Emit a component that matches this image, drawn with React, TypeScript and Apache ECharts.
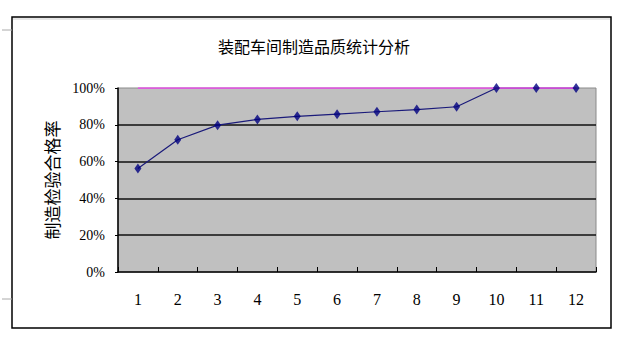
import React, { useEffect, useRef } from "react";
import * as echarts from "echarts";

const titleText = "装配车间制造品质统计分析";
const yAxisName = "制造检验合格率";
const months = ["1", "2", "3", "4", "5", "6", "7", "8", "9", "10", "11", "12"];
const passRate = [0.562, 0.719, 0.798, 0.829, 0.846, 0.858, 0.871, 0.883, 0.898, 1.0, 1.0, 1.0];
const targetRate = [1, 1, 1, 1, 1, 1, 1, 1, 1, 1, 1, 1];
const yTickValues = [0, 0.2, 0.4, 0.6, 0.8, 1.0];

export default function App() {
  const ref = useRef<HTMLDivElement>(null);
  useEffect(() => {
    if (!ref.current) return;
    const chart = echarts.init(ref.current, null, { renderer: "svg" });
    chart.setOption({
      animation: false,
      backgroundColor: "#ffffff",
      title: {
        text: titleText,
        left: 213,
        top: 33,
        textStyle: {
          fontFamily: "Noto Sans CJK SC",
          fontSize: 16,
          fontWeight: "normal",
          color: "#000",
        },
      },
      grid: {
        left: 118,
        top: 88,
        right: 34,
        bottom: 66,
        show: true,
        backgroundColor: "#c0c0c0",
        borderColor: "#8a8a8a",
        borderWidth: 1,
      },
      xAxis: {
        type: "category",
        data: months,
        boundaryGap: true,
        axisLine: { show: true, lineStyle: { color: "#000", width: 1.5 } },
        axisTick: { show: true, inside: true, length: 5, lineStyle: { color: "#000" } },
        axisLabel: {
          margin: 19,
          fontFamily: "Liberation Serif",
          fontSize: 16,
          color: "#000",
        },
      },
      yAxis: {
        type: "value",
        min: yTickValues[0],
        max: yTickValues[yTickValues.length - 1],
        interval: 0.2,
        name: yAxisName,
        nameLocation: "middle",
        nameRotate: 90,
        nameGap: 58,
        nameTextStyle: {
          fontFamily: "Noto Sans CJK SC",
          fontSize: 17,
          color: "#000",
        },
        axisLine: { show: true, lineStyle: { color: "#000", width: 1.5 } },
        axisTick: { show: true, length: 3, lineStyle: { color: "#000" } },
        axisLabel: {
          margin: 13,
          fontFamily: "Liberation Serif",
          fontSize: 14,
          color: "#000",
          formatter: (v: number) => `${Math.round(v * 100)}%`,
        },
        splitLine: {
          show: true,
          showMinLine: false,
          showMaxLine: false,
          lineStyle: { color: "#111", width: 1.5 },
        },
      },
      series: [
        {
          name: "合格率",
          type: "line",
          data: passRate,
          symbol: "none",
          lineStyle: { color: "#1a1a7a", width: 1.2 },
          z: 2,
        },
        {
          name: "目标",
          type: "line",
          data: targetRate,
          symbol: "none",
          lineStyle: { color: "#ee44ee", width: 1.5 },
          z: 3,
        },
        {
          name: "合格率点",
          type: "scatter",
          data: passRate,
          symbol: "diamond",
          symbolSize: [7, 10],
          itemStyle: { color: "#000080" },
          z: 4,
        },
      ],
      graphic: [
        {
          type: "rect",
          shape: { x: 12, y: 17, width: 599, height: 311 },
          style: { fill: "none", stroke: "#000", lineWidth: 1.5 },
          silent: true,
        },
        {
          type: "line",
          shape: { x1: 13, y1: 19, x2: 610, y2: 19 },
          style: { stroke: "#cfcfcf", lineWidth: 1 },
          silent: true,
        },
        {
          type: "line",
          shape: { x1: 2, y1: 30, x2: 12, y2: 30 },
          style: { stroke: "#aaaaaa", lineWidth: 1 },
          silent: true,
        },
        {
          type: "line",
          shape: { x1: 2, y1: 299, x2: 12, y2: 299 },
          style: { stroke: "#aaaaaa", lineWidth: 1 },
          silent: true,
        },
      ],
    });
    return () => chart.dispose();
  }, []);
  return (
    <div
      ref={ref}
      style={{ position: "fixed", left: 0, top: 0, width: 630, height: 338 }}
    />
  );
}
